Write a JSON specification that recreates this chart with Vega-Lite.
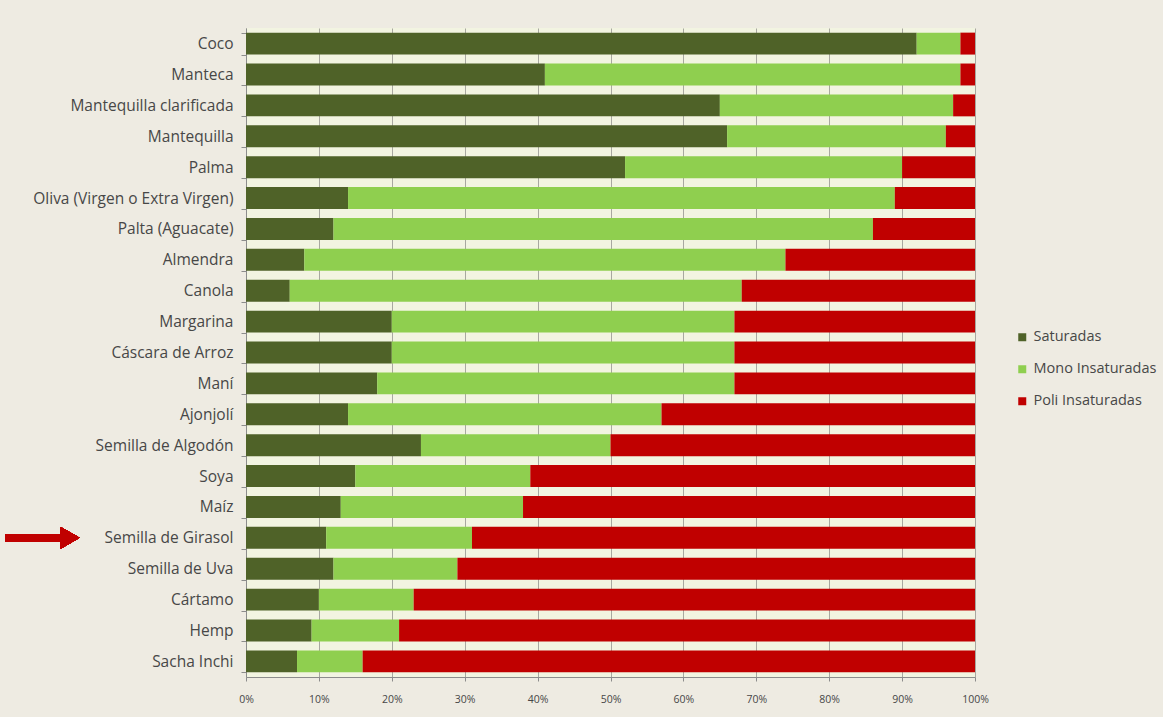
{
  "$schema": "https://vega.github.io/schema/vega-lite/v6.json",
  "autosize": "none",
  "width": 729,
  "height": 649,
  "padding": {"left": 246, "top": 28, "right": 188, "bottom": 40},
  "background": "#eeebe2",
  "config": {
    "font": "Open Sans",
    "view": {"fill": "#f2f4e1", "stroke": null}
  },
  "data": {
    "values": [
      {"aceite": "Coco", "tipo": "Saturadas", "valor": 92},
      {"aceite": "Coco", "tipo": "Mono Insaturadas", "valor": 6},
      {"aceite": "Coco", "tipo": "Poli Insaturadas", "valor": 2},
      {"aceite": "Manteca", "tipo": "Saturadas", "valor": 41},
      {"aceite": "Manteca", "tipo": "Mono Insaturadas", "valor": 57},
      {"aceite": "Manteca", "tipo": "Poli Insaturadas", "valor": 2},
      {"aceite": "Mantequilla clarificada", "tipo": "Saturadas", "valor": 65},
      {"aceite": "Mantequilla clarificada", "tipo": "Mono Insaturadas", "valor": 32},
      {"aceite": "Mantequilla clarificada", "tipo": "Poli Insaturadas", "valor": 3},
      {"aceite": "Mantequilla", "tipo": "Saturadas", "valor": 66},
      {"aceite": "Mantequilla", "tipo": "Mono Insaturadas", "valor": 30},
      {"aceite": "Mantequilla", "tipo": "Poli Insaturadas", "valor": 4},
      {"aceite": "Palma", "tipo": "Saturadas", "valor": 52},
      {"aceite": "Palma", "tipo": "Mono Insaturadas", "valor": 38},
      {"aceite": "Palma", "tipo": "Poli Insaturadas", "valor": 10},
      {"aceite": "Oliva (Virgen o Extra Virgen)", "tipo": "Saturadas", "valor": 14},
      {"aceite": "Oliva (Virgen o Extra Virgen)", "tipo": "Mono Insaturadas", "valor": 75},
      {"aceite": "Oliva (Virgen o Extra Virgen)", "tipo": "Poli Insaturadas", "valor": 11},
      {"aceite": "Palta (Aguacate)", "tipo": "Saturadas", "valor": 12},
      {"aceite": "Palta (Aguacate)", "tipo": "Mono Insaturadas", "valor": 74},
      {"aceite": "Palta (Aguacate)", "tipo": "Poli Insaturadas", "valor": 14},
      {"aceite": "Almendra", "tipo": "Saturadas", "valor": 8},
      {"aceite": "Almendra", "tipo": "Mono Insaturadas", "valor": 66},
      {"aceite": "Almendra", "tipo": "Poli Insaturadas", "valor": 26},
      {"aceite": "Canola", "tipo": "Saturadas", "valor": 6},
      {"aceite": "Canola", "tipo": "Mono Insaturadas", "valor": 62},
      {"aceite": "Canola", "tipo": "Poli Insaturadas", "valor": 32},
      {"aceite": "Margarina", "tipo": "Saturadas", "valor": 20},
      {"aceite": "Margarina", "tipo": "Mono Insaturadas", "valor": 47},
      {"aceite": "Margarina", "tipo": "Poli Insaturadas", "valor": 33},
      {"aceite": "Cáscara de Arroz", "tipo": "Saturadas", "valor": 20},
      {"aceite": "Cáscara de Arroz", "tipo": "Mono Insaturadas", "valor": 47},
      {"aceite": "Cáscara de Arroz", "tipo": "Poli Insaturadas", "valor": 33},
      {"aceite": "Maní", "tipo": "Saturadas", "valor": 18},
      {"aceite": "Maní", "tipo": "Mono Insaturadas", "valor": 49},
      {"aceite": "Maní", "tipo": "Poli Insaturadas", "valor": 33},
      {"aceite": "Ajonjolí", "tipo": "Saturadas", "valor": 14},
      {"aceite": "Ajonjolí", "tipo": "Mono Insaturadas", "valor": 43},
      {"aceite": "Ajonjolí", "tipo": "Poli Insaturadas", "valor": 43},
      {"aceite": "Semilla de Algodón", "tipo": "Saturadas", "valor": 24},
      {"aceite": "Semilla de Algodón", "tipo": "Mono Insaturadas", "valor": 26},
      {"aceite": "Semilla de Algodón", "tipo": "Poli Insaturadas", "valor": 50},
      {"aceite": "Soya", "tipo": "Saturadas", "valor": 15},
      {"aceite": "Soya", "tipo": "Mono Insaturadas", "valor": 24},
      {"aceite": "Soya", "tipo": "Poli Insaturadas", "valor": 61},
      {"aceite": "Maíz", "tipo": "Saturadas", "valor": 13},
      {"aceite": "Maíz", "tipo": "Mono Insaturadas", "valor": 25},
      {"aceite": "Maíz", "tipo": "Poli Insaturadas", "valor": 62},
      {"aceite": "Semilla de Girasol", "tipo": "Saturadas", "valor": 11},
      {"aceite": "Semilla de Girasol", "tipo": "Mono Insaturadas", "valor": 20},
      {"aceite": "Semilla de Girasol", "tipo": "Poli Insaturadas", "valor": 69},
      {"aceite": "Semilla de Uva", "tipo": "Saturadas", "valor": 12},
      {"aceite": "Semilla de Uva", "tipo": "Mono Insaturadas", "valor": 17},
      {"aceite": "Semilla de Uva", "tipo": "Poli Insaturadas", "valor": 71},
      {"aceite": "Cártamo", "tipo": "Saturadas", "valor": 10},
      {"aceite": "Cártamo", "tipo": "Mono Insaturadas", "valor": 13},
      {"aceite": "Cártamo", "tipo": "Poli Insaturadas", "valor": 77},
      {"aceite": "Hemp", "tipo": "Saturadas", "valor": 9},
      {"aceite": "Hemp", "tipo": "Mono Insaturadas", "valor": 12},
      {"aceite": "Hemp", "tipo": "Poli Insaturadas", "valor": 79},
      {"aceite": "Sacha Inchi", "tipo": "Saturadas", "valor": 7},
      {"aceite": "Sacha Inchi", "tipo": "Mono Insaturadas", "valor": 9},
      {"aceite": "Sacha Inchi", "tipo": "Poli Insaturadas", "valor": 84}
    ]
  },
  "encoding": {
    "y": {
      "field": "aceite",
      "type": "nominal",
      "sort": null,
      "scale": {"paddingInner": 0.29, "paddingOuter": 0.15},
      "axis": {
        "title": null,
        "domainColor": "#8c8c8c",
        "tickColor": "#8c8c8c",
        "tickBand": "extent",
        "tickSize": 5,
        "labelFontSize": 15.5,
        "labelLimit": 240,
        "labelColor": "#474747",
        "labelPadding": 8
      }
    }
  },
  "layer": [
    {
      "mark": {"type": "bar"},
      "encoding": {
        "x": {
          "field": "valor",
          "type": "quantitative",
          "stack": "normalize",
          "scale": {"domain": [0, 1], "nice": false},
          "axis": {
            "title": null,
            "format": ".0%",
            "values": [0, 0.1, 0.2, 0.3, 0.4, 0.5, 0.6, 0.7, 0.8, 0.9, 1],
            "labelOverlap": false,
            "labelFlush": false,
            "gridColor": "#a8a8a0",
            "gridOpacity": 1,
            "domainColor": "#8c8c8c",
            "tickColor": "#8c8c8c",
            "tickSize": 4,
            "labelFontSize": 10.5,
            "labelColor": "#474747",
            "labelPadding": 13
          }
        },
        "color": {
          "field": "tipo",
          "type": "nominal",
          "sort": ["Saturadas", "Mono Insaturadas", "Poli Insaturadas"],
          "scale": {
            "domain": ["Saturadas", "Mono Insaturadas", "Poli Insaturadas"],
            "range": ["#4f6228", "#8fcf4f", "#c00000"]
          },
          "legend": {
            "title": null,
            "orient": "none",
            "legendX": 769,
            "legendY": 302,
            "symbolType": "square",
            "symbolSize": 64,
            "symbolStrokeWidth": 0,
            "labelFontSize": 14.5,
            "labelLimit": 200,
            "labelColor": "#474747",
            "rowPadding": 17,
            "labelOffset": 4
          }
        },
        "order": {"field": "aceite", "type": "nominal"}
      }
    },
    {
      "mark": {"type": "rule", "color": "#c00000", "strokeWidth": 7, "xOffset": -241, "x2Offset": -184},
      "encoding": {
        "x": {"datum": 0},
        "x2": {"datum": 0},
        "y": {"datum": "Semilla de Girasol"}
      }
    },
    {
      "mark": {"type": "point", "shape": "triangle-right", "filled": true, "color": "#c00000", "opacity": 1, "size": 480, "xOffset": -176},
      "encoding": {
        "x": {"datum": 0},
        "y": {"datum": "Semilla de Girasol"}
      }
    }
  ]
}
